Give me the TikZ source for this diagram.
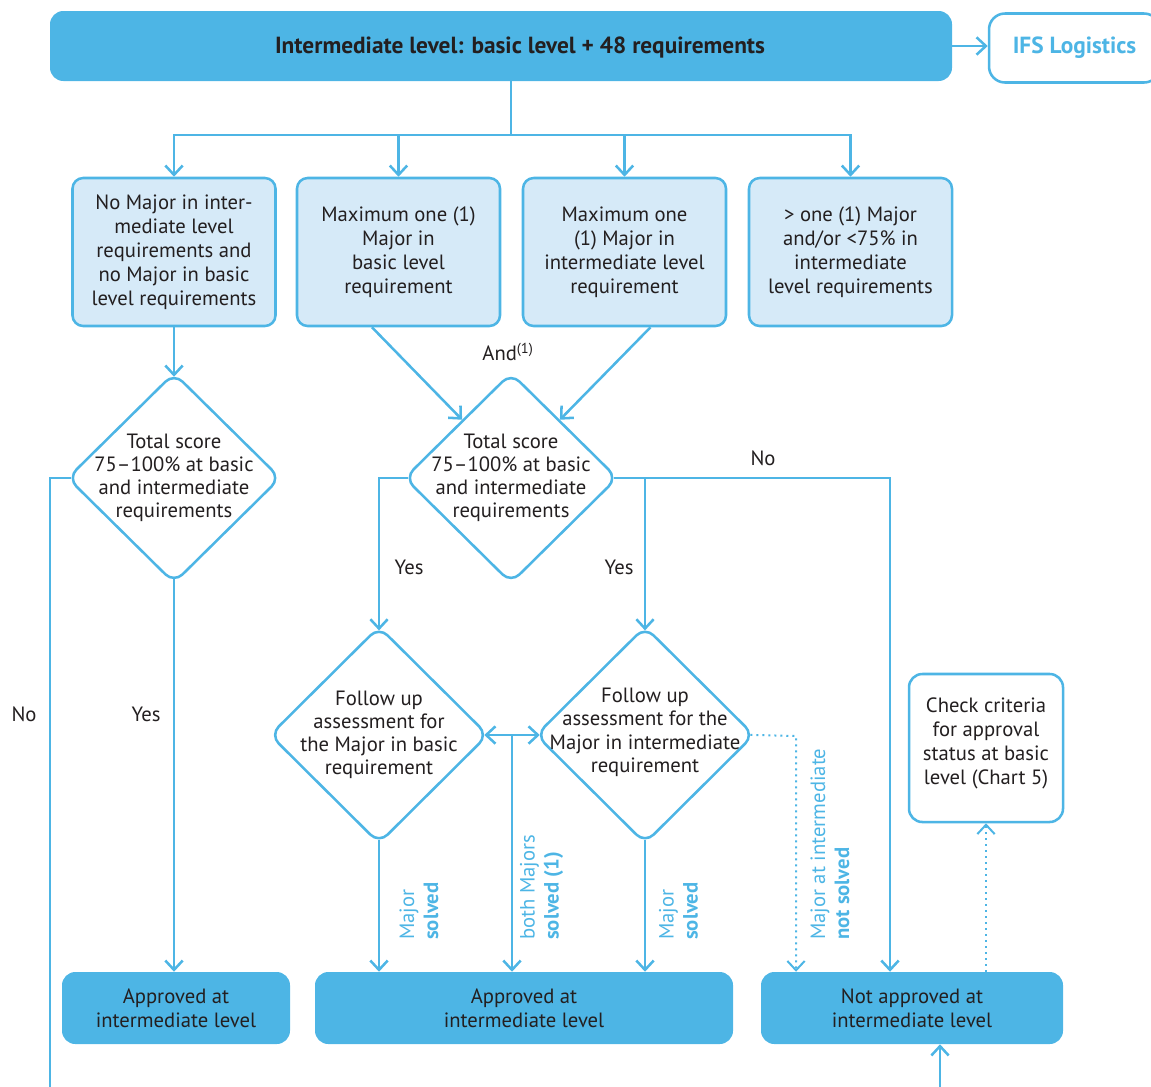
\documentclass[tikz,border=0pt]{standalone}
\usepackage{fontspec}
\setmainfont{PT Sans}
\usetikzlibrary{arrows.meta,shapes.geometric,calc}
\definecolor{cblue}{HTML}{4DB5E5}
\definecolor{clight}{HTML}{D6EAF8}
\definecolor{ctext}{HTML}{231F20}
\begin{document}
\begin{tikzpicture}[x=0.75pt,y=-0.75pt,
  every node/.style={font=\fontsize{15.5}{18}\selectfont, text=ctext},
  ln/.style={draw=cblue, line width=1.9pt},
  arr/.style={ln, -{Straight Barb[length=7pt,width=13pt]}},
  arrtwo/.style={ln, {Straight Barb[length=7pt,width=13pt]}-{Straight Barb[length=7pt,width=13pt]}},
  darr/.style={draw=cblue, line width=1.5pt, dash pattern=on 1.5pt off 3pt, -{Straight Barb[length=7pt,width=13pt]}},
  tin/.style={shorten >=-4pt},
  tout/.style={shorten <=-4pt},
  lbox/.style={draw=cblue, fill=clight, line width=1.9pt, rounded corners=8pt, align=center,
    minimum width=152.25pt, minimum height=111pt, inner sep=2pt},
  dbox/.style={fill=cblue, rounded corners=10pt, align=center, inner sep=0pt},
  wbox/.style={draw=cblue, fill=white, line width=1.9pt, rounded corners=10pt, align=center},
  dia/.style={diamond, draw=cblue, fill=white, line width=1.9pt, rounded corners=9pt, inner sep=0pt},
  dtext/.style={align=center, font=\fontsize{15.5}{17.4}\selectfont},
  rlab/.style={rotate=90, anchor=west, align=left, text=cblue, inner sep=0pt},
]
\clip (0,0) rectangle (1151,1086);

% top bar
\node[dbox, minimum width=676.5pt, minimum height=52.5pt] (top) at (501,46) {};
\node[font=\fontsize{17.5}{20}\selectfont\bfseries] (toptext) at (520,47) {Intermediate level: basic level + 48 requirements};
\node[wbox, rounded corners=12pt, minimum width=128.25pt, minimum height=51.75pt, text=cblue,
  font=\fontsize{17.5}{20}\selectfont\bfseries] (ifs) at (1074.5,48) {IFS Logistics};

% four condition boxes
\node[lbox] (b1) at (174,252) {No Major in inter-\\mediate level\\requirements and\\no Major in basic\\level requirements};
\node[lbox] (b2) at (398.5,252) {Maximum one (1)\\Major in\\basic level\\requirement};
\node[lbox] (b3) at (624.5,252) {Maximum one\\(1) Major in\\intermediate level\\requirement};
\node[lbox] (b4) at (850.5,252) {> one (1) Major\\and/or <75\% in\\intermediate\\level requirements};

% diamonds
\node[dia, minimum width=160pt, minimum height=158pt,
  label={[dtext]center:Total score\\75--100\% at basic\\and intermediate\\requirements}] (d1) at (174,478) {};
\node[dia, minimum width=160pt, minimum height=158pt,
  label={[dtext]center:Total score\\75--100\% at basic\\and intermediate\\requirements}] (d2) at (511,478) {};
\node[dia, minimum width=164pt, minimum height=163pt,
  label={[dtext]center:Follow up\\assessment for\\the Major in basic\\requirement}] (d3) at (379,735) {};
\node[dia, minimum width=164pt, minimum height=163pt,
  label={[dtext, yshift=2pt]center:Follow up\\assessment for the\\Major in intermediate\\requirement}] (d4) at (645,735) {};

% check box
\node[wbox, minimum width=115.5pt, minimum height=111pt,
  label={[align=center, yshift=3.75pt]center:Check criteria\\for approval\\status at basic\\level (Chart 5)}] (chk) at (986,748) {};

% result boxes
\node[dbox, minimum width=171pt, minimum height=54pt] (A) at (176,1008) {Approved at\\intermediate level};
\node[dbox, minimum width=313.5pt, minimum height=54pt] (B) at (524,1008) {Approved at\\intermediate level};
\node[dbox, minimum width=226.5pt, minimum height=54pt] (C) at (912,1008) {Not approved at\\intermediate level};

% connectors
\draw[arr] (top.east) -- (top.east -| ifs.west);
\coordinate (hb) at (511,135);
\draw[ln] (top.south -| hb) -- (hb);
\foreach \b in {b1,b2,b3,b4} \draw[arr] (hb) -| (\b.north);

\draw[arr, tin] (b1.south) -- (d1.north);
\draw[arr] ([xshift=-19.9pt]b2.south) -- (d2.130);
\draw[arr] ([xshift=19.5pt]b3.south) -- (d2.50);
\node (and) at (508,352) {And\textsuperscript{(1)}};

\coordinate (offl) at (50,1100);
\draw[ln, tout] (d1.west) -| (offl);
\draw[arr, tout] (d1.south) -- (d1.south |- A.north);
\node (no1) at (24,714) {No};
\node (yes1) at (146,714) {Yes};

\draw[arr, tout, tin] (d2.west) -| (d3.north);
\coordinate (nr) at (890,478);
\draw[arr, tout] (d2.east) -- (nr) -- (nr |- C.north);
\draw[arr, tin] (d2.east -| d4.north) -- (d4.north);
\node (yes2) at (409,567) {Yes};
\node (yes3) at (619,567) {Yes};
\node (no2) at (763,458) {No};

\draw[arr, tout] (d3.south) -- (d3.south |- B.north);
\draw[arr, tout] (d4.south) -- (d4.south |- B.north);
\draw[arrtwo, tout, tin] (d3.east) -- (d4.west);
\coordinate (mid) at ($(d3.east)!0.5!(d4.west)$);
\draw[arr] (mid) -- (mid |- B.north);

\coordinate (dc) at (796,736);
\draw[darr, shorten <=-4pt] (d4.east) -- (dc) -- (dc |- C.north);
\draw[darr] (chk.south |- C.north) -- (chk.south);
\coordinate (offr) at (940,1100);
\draw[arr] (offr) -- (offr |- C.south);

% rotated labels
\node[rlab] (l1) at (419,940) {Major\\\textbf{solved}};
\node[rlab] (l2) at (541.5,940) {both Majors\\\textbf{solved (1)}};
\node[rlab] (l3) at (678.5,940) {Major\\\textbf{solved}};
\node[rlab] (l4) at (830,940) {Major at intermediate\\\textbf{not solved}};
\end{tikzpicture}
\end{document}
